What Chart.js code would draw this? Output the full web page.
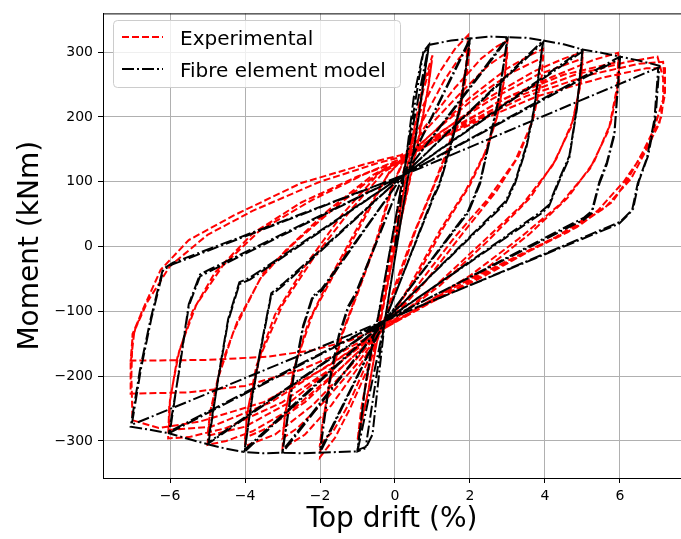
<!DOCTYPE html>
<html>
<head>
<meta charset="utf-8">
<script src="https://cdn.jsdelivr.net/npm/chart.js@4.4.1/dist/chart.umd.min.js"></script>
<style>
  html, body { margin: 0; padding: 0; background: #fff; overflow: hidden; }
  canvas { display: block; }
</style>
</head>
<body>
<canvas id="stage" width="681" height="539"></canvas>
<script>
// drift (%) , moment (kNm) pairs, one array per drift level
const expA1 = [
  [0,0],[0.4,150],[0.75,250],[1.0,295],[0.9,250],[0.65,170],[0.35,90],[0,0],[-0.35,-100],[-0.7,-220],
  [-1.0,-300],[-0.9,-250],[-0.65,-170],[-0.35,-90],[0,10],[0.4,140],[0.75,240],[0.98,285],[0.88,245],
  [0.62,165],[0.3,80],[-0.05,-15],[-0.4,-120],[-0.72,-225],[-0.98,-290],[-0.88,-245],[-0.6,-160],
  [-0.3,-70],[0.05,40],[0.2,110]
];
const expA2 = [
  [0.6,200],[1.2,270],[1.6,305],[1.95,326],[1.9,280],[1.7,210],[1.4,150],[1.0,90],[0.5,20],[0,-60],
  [-0.3,-115],[-0.7,-185],[-1.2,-250],[-1.6,-295],[-2.0,-325],[-1.95,-280],[-1.75,-210],[-1.45,-140],
  [-1.0,-70],[-0.5,10],[-0.1,90],[0.2,130],[0.7,190],[1.3,255],[1.7,290],[2.0,308],[1.92,270],
  [1.72,205],[1.45,150],[1.05,95],[0.55,25],[0.05,-60],[-0.3,-118],[-0.75,-180],[-1.25,-245],
  [-1.65,-285],[-2.0,-305],[-1.93,-270],[-1.72,-205],[-1.4,-135],[-0.95,-65],[-0.45,15],[-0.05,95],
  [0.2,128]
];
const expA3 = [
  [0.8,185],[1.6,245],[2.3,290],[2.7,308],[3.0,318],[2.95,275],[2.75,205],[2.45,150],[2.0,95],
  [1.3,30],[0.5,-55],[-0.25,-120],[-0.9,-180],[-1.7,-245],[-2.4,-290],[-3.0,-312],[-2.95,-265],
  [-2.7,-190],[-2.3,-115],[-1.7,-45],[-0.9,40],[-0.2,110],[0.15,132],[0.9,185],[1.8,240],[2.5,280],
  [3.0,300],[2.93,262],[2.72,200],[2.4,145],[1.9,88],[1.2,25],[0.4,-60],[-0.25,-122],[-1.0,-180],
  [-1.9,-240],[-2.6,-280],[-3.0,-296],[-2.92,-255],[-2.65,-180],[-2.2,-105],[-1.6,-40],[-0.8,45],
  [-0.15,115],[0.15,130]
];
const expA4 = [
  [1.0,175],[2.0,230],[3.0,275],[3.6,295],[3.95,305],[3.92,265],[3.7,200],[3.3,140],[2.7,85],
  [1.8,20],[0.8,-55],[-0.25,-122],[-1.2,-185],[-2.2,-245],[-3.2,-290],[-4.0,-308],[-3.95,-260],
  [-3.7,-185],[-3.2,-105],[-2.4,-30],[-1.4,50],[-0.4,115],[0.15,132],[1.1,180],[2.1,228],[3.1,268],
  [3.95,292],[3.9,255],[3.65,190],[3.2,132],[2.5,75],[1.6,15],[0.6,-60],[-0.25,-123],[-1.3,-180],
  [-2.4,-240],[-3.4,-280],[-4.0,-295],[-3.92,-250],[-3.6,-170],[-3.0,-90],[-2.2,-20],[-1.2,55],
  [-0.3,115],[0.15,130]
];
const expA5 = [
  [1.2,175],[2.5,230],[3.7,270],[4.5,290],[5.0,300],[4.97,260],[4.75,195],[4.3,135],[3.6,75],
  [2.5,10],[1.2,-60],[-0.25,-123],[-1.4,-185],[-2.6,-245],[-3.8,-285],[-4.5,-300],[-5.0,-306],
  [-4.95,-265],[-4.7,-200],[-4.3,-130],[-3.6,-50],[-2.9,-5],[-1.8,55],[-0.6,110],[0.15,133],
  [1.3,180],[2.6,228],[3.8,265],[5.0,290],[4.95,250],[4.7,185],[4.2,125],[3.4,65],[2.3,5],[1.0,-65],
  [-0.25,-124],[-1.5,-180],[-2.8,-240],[-4.0,-278],[-5.0,-292],[-4.93,-255],[-4.65,-185],
  [-4.2,-115],[-3.5,-40],[-2.6,10],[-1.5,65],[-0.4,115],[0.15,131]
];
const expA6 = [
  [1.4,175],[2.8,225],[4.2,262],[5.3,288],[5.95,299],[5.98,255],[5.75,190],[5.3,130],[4.6,75],
  [3.6,20],[2.3,-40],[1.0,-82],[-0.25,-124],[-1.5,-180],[-3.0,-240],[-4.5,-280],[-5.5,-294],
  [-6.05,-296],[-6.02,-245],[-5.8,-170],[-5.4,-100],[-4.8,-40],[-3.8,20],[-2.5,68],[-1.0,108],
  [0.15,135],[1.6,185],[3.0,230],[4.5,265],[5.95,285],[5.92,245],[5.7,180],[5.2,120],[4.4,65],
  [3.3,12],[2.0,-45],[0.8,-88],[-0.25,-125],[-1.7,-180],[-3.3,-240],[-4.9,-278],[-6.03,-283],
  [-6.0,-235],[-5.75,-160],[-5.3,-90],[-4.6,-30],[-3.6,25],[-2.2,72],[-0.8,112],[0.15,133]
];
const expA7 = [
  [1.6,180],[3.2,230],[4.8,265],[6.2,285],[7.0,293],[7.15,260],[7.15,227],[6.9,180],[6.6,145],
  [6.2,103],[5.8,69],[4.85,30],[3.87,2],[2.4,-45],[1.0,-85],[-0.25,-125],[-1.8,-185],[-3.5,-240],
  [-5.2,-270],[-6.3,-280],[-7.0,-268],[-7.03,-200],[-7.0,-135],[-6.7,-94],[-6.25,-36],[-5.5,10],
  [-4.3,48],[-2.5,98],[-0.75,128],[0.15,141],
  [1.8,185],[3.5,232],[5.2,265],[6.5,282],[7.15,285],[7.2,245],[7.1,200],[6.8,160],[6.3,105],
  [5.6,60],[4.6,22],[3.3,-15],[1.8,-60],[0.5,-100],[-0.25,-125],[-1.5,-165],[-2.5,-190],
  [-4.0,-215],[-5.5,-225],[-7.05,-227],[-7.05,-180],[-6.95,-130],[-6.6,-85],[-6.0,-30],[-5.0,18],
  [-3.8,55],[-2.0,100],[-0.5,128],[0.15,138],
  [2.0,188],[3.8,232],[5.5,260],[6.7,275],[7.2,275],[7.2,235],[7.05,190],[6.7,150],[6.1,100],
  [5.4,55],[4.3,15],[3.0,-22],[1.5,-65],[0.3,-105],[-0.25,-122],[-1.2,-145],[-2.2,-160],
  [-3.4,-170],[-5.0,-175],[-7.05,-176],[-7.0,-140],[-6.75,-100]
];

const modelA1 = [
  [0,0],[0.5,230],[0.75,300],[0.9,311],[0.7,230],[0.5,150],[0.35,110],[-0.27,-115],[-0.6,-290],
  [-0.78,-311],[-1.0,-316],[-0.8,-220],[-0.6,-150],[-0.45,-110],[0.22,110],[0.75,298],[0.9,309],
  [0.7,228],[0.5,148],[0.35,108],[-0.27,-114],[-0.78,-309],[-1.0,-314],[-0.8,-218],[-0.6,-148],
  [-0.45,-108],[0.22,110]
];
const modelA2 = [
  [0.9,311],[1.5,318],[2.0,321],[1.75,220],[1.5,160],[1.2,100],[1.0,75],[-0.27,-115],[-1.0,-316],
  [-1.5,-317],[-2.0,-318],[-1.75,-210],[-1.5,-140],[-1.25,-95],[-1.05,-75],[0.22,110],[2.0,318],
  [1.75,217],[1.5,157],[1.2,97],[1.0,72],[-0.27,-114],[-2.0,-315],[-1.75,-207],[-1.5,-137],
  [-1.25,-92],[-1.05,-72],[0.22,110]
];
const modelA3 = [
  [2.0,321],[2.5,324],[3.0,323],[2.75,225],[2.5,160],[2.27,100],[1.95,55],[-0.27,-115],[-2.0,-318],
  [-2.5,-319],[-3.0,-318],[-2.7,-200],[-2.45,-125],[-2.2,-80],[-1.95,-68],[0.22,110],[3.0,320],
  [2.75,222],[2.5,157],[2.27,97],[1.95,52],[-0.27,-114],[-3.0,-315],[-2.7,-197],[-2.45,-122],
  [-2.2,-77],[-1.95,-65],[0.22,110]
];
const modelA4 = [
  [3.0,323],[3.5,322],[3.95,318],[3.7,210],[3.5,155],[3.2,100],[2.95,70],[-0.27,-115],[-3.0,-318],
  [-3.5,-319],[-4.02,-317],[-3.8,-230],[-3.6,-165],[-3.3,-75],[-3.0,-61],[0.22,110],[3.95,315],
  [3.7,207],[3.5,152],[3.2,97],[2.95,67],[-0.27,-114],[-4.0,-313],[-3.8,-227],[-3.6,-162],
  [-3.3,-72],[-3.0,-58],[0.22,110]
];
const modelA5 = [
  [3.95,318],[4.5,312],[5.0,304],[4.85,215],[4.65,140],[4.35,100],[4.1,64],[3.9,54],[-0.27,-115],
  [-4.02,-317],[-4.5,-312],[-5.0,-305],[-4.7,-200],[-4.45,-115],[-4.15,-58],[-3.87,-51],[0.22,110],
  [5.0,301],[4.85,212],[4.65,137],[4.35,97],[4.1,61],[3.9,51],[-0.27,-114],[-4.97,-302],
  [-4.7,-197],[-4.45,-112],[-4.15,-55],[-3.87,-48],[0.22,110]
];
const modelA6 = [
  [5.0,304],[5.5,299],[6.0,293],[5.85,175],[5.65,130],[5.45,100],[5.25,55],[5.05,45],[-0.27,-115],
  [-5.0,-305],[-5.5,-297],[-6.03,-288],[-5.75,-190],[-5.5,-92],[-5.2,-46],[-4.93,-38],[0.22,110],
  [6.0,290],[5.85,172],[5.65,127],[5.45,97],[5.25,52],[5.05,42],[-0.27,-114],[-6.0,-285],
  [-5.75,-187],[-5.5,-89],[-5.2,-43],[-4.93,-35],[0.22,110]
];
const modelA7 = [
  [6.0,293],[6.5,287],[7.05,279],[6.95,200],[6.75,140],[6.5,100],[6.35,58],[6.0,38],[-0.27,-115],
  [-6.03,-288],[-6.5,-283],[-7.05,-278],[-6.8,-190],[-6.53,-115],[-6.2,-37],[-5.95,-28],[0.22,110],
  [7.02,276],[6.92,197],[6.72,137],[6.47,97],[6.32,55],[5.97,35],[-0.27,-114],[-7.02,-275],
  [-6.77,-187],[-6.5,-112],[-6.17,-34],[-5.92,-25],[0.22,110]
];

const xTicks = [-6, -4, -2, 0, 2, 4, 6];
const yTicks = [-300, -200, -100, 0, 100, 200, 300];
const expLabel = 'Experimental';
const modelLabel = 'Fibre element model';

const toPoints = levels => levels.flat().map(p => ({ x: p[0], y: p[1] }));
const minusFmt = v => (v < 0 ? '\u2212' + Math.abs(v) : String(v));
const FONT = '"DejaVu Sans", "Liberation Sans", sans-serif';

// matplotlib-like top spine and legend box
const frame = {
  id: 'frame',
  afterDraw(chart) {
    const { ctx, chartArea: a } = chart;
    ctx.save();
    ctx.strokeStyle = '#000';
    ctx.lineWidth = 1;
    ctx.beginPath();
    ctx.moveTo(a.left, a.top + 0.5);
    ctx.lineTo(a.right, a.top + 0.5);
    ctx.stroke();

    ctx.beginPath();
    ctx.roundRect(113.5, 20.5, 287, 67, 4);
    ctx.fillStyle = 'rgba(255,255,255,0.8)';
    ctx.fill();
    ctx.strokeStyle = '#cccccc';
    ctx.stroke();

    chart.data.datasets.forEach((ds, i) => {
      const y = 37 + i * 32;
      ctx.setLineDash(ds.borderDash);
      ctx.strokeStyle = ds.borderColor;
      ctx.lineWidth = ds.borderWidth;
      ctx.beginPath();
      ctx.moveTo(122, y);
      ctx.lineTo(163, y);
      ctx.stroke();
      ctx.setLineDash([]);
      ctx.fillStyle = '#000';
      ctx.font = '20px ' + FONT;
      ctx.textBaseline = 'alphabetic';
      ctx.fillText(ds.label, 180, y + 8);
    });
    ctx.restore();
  }
};

new Chart(document.getElementById('stage'), {
  type: 'scatter',
  data: {
    datasets: [{
      label: expLabel,
      data: toPoints([expA1, expA2, expA3, expA4, expA5, expA6, expA7]),
      showLine: true,
      borderColor: '#ff0000',
      borderWidth: 2,
      borderDash: [7, 3],
      pointRadius: 0,
      order: 2
    }, {
      label: modelLabel,
      data: toPoints([modelA1, modelA2, modelA3, modelA4, modelA5, modelA6, modelA7]),
      showLine: true,
      borderColor: '#000000',
      borderWidth: 2,
      borderDash: [12, 3, 2, 3],
      pointRadius: 0,
      order: 1
    }]
  },
  options: {
    responsive: false,
    animation: false,
    layout: { padding: { top: 10, right: 0, bottom: 0, left: 0 } },
    plugins: { legend: { display: false }, tooltip: { enabled: false } },
    scales: {
      x: {
        type: 'linear',
        min: -7.787,
        max: 7.627,
        afterFit: s => { s.height = 61; },
        afterBuildTicks: s => { s.ticks = xTicks.map(v => ({ value: v })); },
        ticks: { font: { family: FONT, size: 14 }, color: '#000', padding: 5, callback: minusFmt, maxRotation: 0 },
        grid: { color: '#b0b0b0', lineWidth: 1, tickLength: 5, tickColor: '#000' },
        border: { color: '#000', width: 1 },
        title: { display: true, text: 'Top drift (%)', font: { family: FONT, size: 28 }, color: '#000', padding: { top: 0, bottom: 2 } }
      },
      y: {
        type: 'linear',
        min: -357.1,
        max: 359.7,
        afterFit: s => { s.width = 103; },
        afterBuildTicks: s => { s.ticks = yTicks.map(v => ({ value: v })); },
        ticks: { font: { family: FONT, size: 14 }, color: '#000', padding: 5, callback: minusFmt },
        grid: { color: '#b0b0b0', lineWidth: 1, tickLength: 5, tickColor: '#000' },
        border: { color: '#000', width: 1 },
        title: { display: true, text: 'Moment (kNm)', font: { family: FONT, size: 28 }, color: '#000', padding: { top: 14, bottom: 0 } }
      }
    }
  },
  plugins: [frame]
});
</script>
</body>
</html>
